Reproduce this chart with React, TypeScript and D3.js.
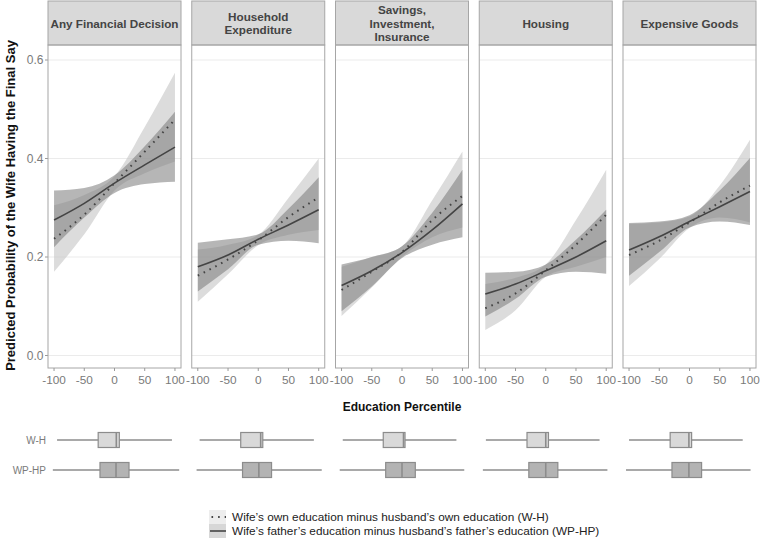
import React from 'react';
import * as d3 from 'd3';

const panels = ['Any Financial Decision', 'Household\nExpenditure', 'Savings,\nInvestment,\nInsurance', 'Housing', 'Expensive Goods'];
const xGrid = [-100, -50, 0, 50, 100];
const xTicks = [-100, -50, 0, 50, 100];
const yTicks = [0, 0.2, 0.4, 0.6];
const yTickLabels = ['0.0', '0.2', '0.4', '0.6'];

// W-H (own education difference)
const whFit = [
  [0.237, 0.286, 0.35, 0.414, 0.479],
  [0.162, 0.195, 0.234, 0.281, 0.321],
  [0.133, 0.17, 0.21, 0.275, 0.324],
  [0.096, 0.126, 0.173, 0.225, 0.286],
  [0.204, 0.233, 0.27, 0.311, 0.345],
];
const whLo = [
  [0.17, 0.246, 0.335, 0.37, 0.394],
  [0.109, 0.165, 0.224, 0.245, 0.255],
  [0.08, 0.138, 0.2, 0.24, 0.26],
  [0.052, 0.092, 0.16, 0.18, 0.2],
  [0.141, 0.196, 0.259, 0.28, 0.27],
];
const whHi = [
  [0.305, 0.326, 0.364, 0.464, 0.574],
  [0.215, 0.225, 0.245, 0.32, 0.4],
  [0.18, 0.2, 0.222, 0.315, 0.414],
  [0.145, 0.158, 0.185, 0.275, 0.377],
  [0.267, 0.27, 0.282, 0.345, 0.438],
];
// WP-HP (fathers' education difference)
const wpFit = [
  [0.275, 0.309, 0.35, 0.387, 0.423],
  [0.18, 0.204, 0.236, 0.265, 0.296],
  [0.142, 0.172, 0.209, 0.255, 0.308],
  [0.125, 0.145, 0.172, 0.2, 0.233],
  [0.214, 0.241, 0.272, 0.302, 0.333],
];
const wpLo = [
  [0.22, 0.28, 0.33, 0.348, 0.353],
  [0.13, 0.175, 0.225, 0.233, 0.228],
  [0.09, 0.14, 0.198, 0.225, 0.24],
  [0.079, 0.115, 0.16, 0.17, 0.166],
  [0.162, 0.21, 0.26, 0.272, 0.265],
];
const wpHi = [
  [0.335, 0.34, 0.366, 0.425, 0.495],
  [0.229, 0.236, 0.246, 0.298, 0.362],
  [0.185, 0.2, 0.222, 0.29, 0.377],
  [0.168, 0.17, 0.185, 0.235, 0.296],
  [0.269, 0.272, 0.285, 0.335, 0.401],
];

// boxplot stats: [lowWhisker, q1, median, q3, highWhisker]
const boxWH = [
  [-95, -27, 3, 8, 95],
  [-97, -29, 4, 7.5, 92],
  [-98, -31, 2.5, 5, 90],
  [-99, -31, 0, 4.5, 89],
  [-100, -32, -1, 3.5, 88],
];
const boxWP = [
  [-102, -24, 2.5, 24, 107],
  [-102, -26, 1, 22, 105],
  [-103, -27, 0, 22, 103],
  [-104, -28, 0, 20, 102],
  [-105, -29, -1, 20, 101],
];
const boxLabels = ['W-H', 'WP-HP'];
const legendLabels = [
  'Wife\u2019s own education minus husband\u2019s own education (W-H)',
  'Wife\u2019s father\u2019s education minus husband\u2019s father\u2019s education (WP-HP)',
];

const FONT = '"Liberation Sans", Arial, Helvetica, sans-serif';
const W = 760;
const H = 541;
const panelW = 133;
const panelStep = 143.75;
const panelX0 = 48;
const stripTop = 1;
const panelTop = 45;
const panelBottom = 368;

export default function App() {
  const y = d3.scaleLinear().domain([0, 0.6]).range([355.5, 60]);
  const whFill = '#c4c4c4';
  const whOpacity = 0.6;
  const wpFill = '#7a7a7a';
  const wpOpacity = 0.55;
  const boxY = [440, 470];

  return (
    <svg width={W} height={H} style={{ position: 'absolute', left: 0, top: 0, background: '#fff' }} fontFamily={FONT}>
      <rect x={0} y={0} width={W} height={H} fill="#fff" />
      {/* y axis title */}
      <text
        transform={`translate(10,${(panelTop + panelBottom) / 2 - 1}) rotate(-90)`}
        textAnchor="middle"
        dominantBaseline="central"
        fontSize={13}
        fontWeight="bold"
        fill="#111"
      >
        Predicted Probability of the Wife Having the Final Say
      </text>
      {/* y ticks */}
      {yTicks.map((t, k) => (
        <g key={k}>
          <line x1={panelX0 - 3} x2={panelX0} y1={y(t)} y2={y(t)} stroke="#999" />
          <text x={panelX0 - 4.5} y={y(t)} textAnchor="end" dominantBaseline="central" fontSize={12} fill="#7a7a7a">
            {yTickLabels[k]}
          </text>
        </g>
      ))}
      {panels.map((name, i) => {
        const L = panelX0 + i * panelStep;
        const x = d3.scaleLinear().domain([-110, 110]).range([L, L + panelW]);
        const area = (lo: number[], hi: number[]) =>
          d3
            .area<number>()
            .x((_, j) => x(xGrid[j]))
            .y0((_, j) => y(lo[j]))
            .y1((_, j) => y(hi[j]))
            .curve(d3.curveMonotoneX)(xGrid) || '';
        const line = (v: number[]) =>
          d3
            .line<number>()
            .x((_, j) => x(xGrid[j]))
            .y((_, j) => y(v[j]))
            .curve(d3.curveMonotoneX)(xGrid) || '';
        const lines = name.split('\n');
        const cy = (stripTop + panelTop) / 2;
        const lh = 13.3;
        return (
          <g key={i}>
            {/* strip */}
            <rect x={L} y={stripTop} width={panelW} height={panelTop - stripTop} fill="#d9d9d9" stroke="#a6a6a6" strokeWidth={1} />
            {lines.map((ln, k) => (
              <text
                key={k}
                x={L + panelW / 2}
                y={cy + (k - (lines.length - 1) / 2) * lh}
                textAnchor="middle"
                dominantBaseline="central"
                fontSize={11.7}
                fontWeight="bold"
                fill="#444"
              >
                {ln}
              </text>
            ))}
            {/* grid */}
            {yTicks.map((t, k) => (
              <line key={k} x1={L} x2={L + panelW} y1={y(t)} y2={y(t)} stroke="#ebebeb" strokeWidth={1} />
            ))}
            {/* bands */}
            <path d={area(whLo[i], whHi[i])} fill={whFill} fillOpacity={whOpacity} />
            <path d={area(wpLo[i], wpHi[i])} fill={wpFill} fillOpacity={wpOpacity} />
            <path d={line(wpFit[i])} fill="none" stroke="#444" strokeWidth={1.6} />
            <path d={line(whFit[i])} fill="none" stroke="#444" strokeWidth={2} strokeDasharray="1.6 5" />
            {/* border */}
            <rect x={L} y={panelTop} width={panelW} height={panelBottom - panelTop} fill="none" stroke="#a6a6a6" strokeWidth={1} />
            {/* x ticks */}
            {xTicks.map((t, k) => (
              <g key={k}>
                <line x1={x(t)} x2={x(t)} y1={panelBottom} y2={panelBottom + 3} stroke="#999" />
                <text x={x(t)} y={panelBottom + 11.5} textAnchor="middle" dominantBaseline="central" fontSize={11.8} fill="#7a7a7a">
                  {t}
                </text>
              </g>
            ))}
            {/* boxplots */}
            {[boxWH[i], boxWP[i]].map((b, r) => {
              const cyb = boxY[r];
              const hh = 7.5;
              return (
                <g key={r}>
                  <line x1={x(b[0])} x2={x(b[4])} y1={cyb} y2={cyb} stroke="#8c8c8c" strokeWidth={1.3} />
                  <rect
                    x={x(b[1])}
                    y={cyb - hh}
                    width={x(b[3]) - x(b[1])}
                    height={hh * 2}
                    fill={r === 0 ? '#d9d9d9' : '#b3b3b3'}
                    stroke="#8c8c8c"
                    strokeWidth={1.2}
                  />
                  <line x1={x(b[2])} x2={x(b[2])} y1={cyb - hh} y2={cyb + hh} stroke="#8c8c8c" strokeWidth={1.6} />
                </g>
              );
            })}
          </g>
        );
      })}
      {/* x axis title */}
      <text x={(panelX0 + panelX0 + 4 * panelStep + panelW) / 2} y={407} textAnchor="middle" dominantBaseline="central" fontSize={12} fontWeight="bold" fill="#111">
        Education Percentile
      </text>
      {/* box labels */}
      {boxLabels.map((lab, r) => (
        <text key={r} x={46} y={boxY[r]} textAnchor="end" dominantBaseline="central" fontSize={10} fill="#7a7a7a">
          {lab}
        </text>
      ))}
      {/* legend */}
      {legendLabels.map((lab, r) => {
        const cyl = 517 + r * 14;
        return (
          <g key={r}>
            <rect x={209} y={cyl - 7} width={17} height={14} fill={r === 0 ? whFill : wpFill} fillOpacity={0.3} />
            {r === 0 ? (
              <line x1={210} x2={226} y1={cyl} y2={cyl} stroke="#444" strokeWidth={2} strokeDasharray="1.6 5" strokeDashoffset={-1.5} />
            ) : (
              <line x1={210} x2={226} y1={cyl} y2={cyl} stroke="#444" strokeWidth={1.6} />
            )}
            <text x={232} y={cyl} dominantBaseline="central" fontSize={11.8} fill="#222">
              {lab}
            </text>
          </g>
        );
      })}
    </svg>
  );
}
